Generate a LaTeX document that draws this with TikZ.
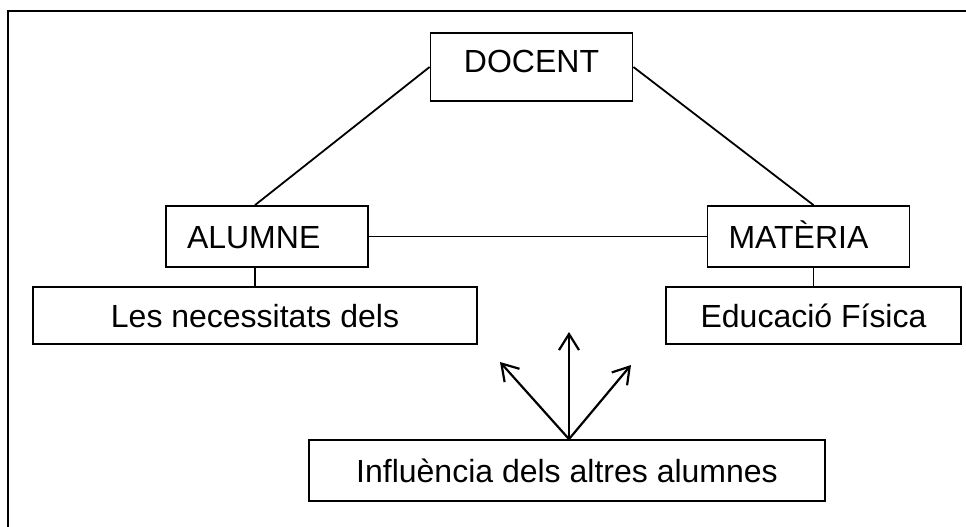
\documentclass[tikz,border=0pt]{standalone}
\usepackage{fontspec}
\setmainfont{Liberation Sans}
\usetikzlibrary{arrows.meta}

\begin{document}
\begin{tikzpicture}[x=1pt, y=-1pt,
		box/.style={draw, line width=1.8pt, inner sep=0pt, text height=23, text depth=0, font=\fontsize{32}{38}\selectfont},
		lefttext/.style={box, align=left, text width=160, inner xsep=21},
		link/.style={line width=1.8pt},
		pull/.style={line width=2.2pt, -{Straight Barb[length=16, width=20, line width=2.2pt]}}]
		\useasboundingbox (0,0) rectangle (966,527);
		\draw[line width=2.5pt] (8,527) -- (8,11) -- (966,11);
		\node[box, text depth=11, minimum width=202, minimum height=68] (docent) at (531.5,67) {DOCENT};
		\node[lefttext, minimum height=61] (alumne) at (267,236.5) {ALUMNE};
		\node[lefttext, minimum height=61] (materia) at (808.5,236.5) {MATÈRIA};
		\node[box, minimum width=444, minimum height=57] (necessitats) at (255,315.5) {Les necessitats dels};
		\node[box, minimum width=295, minimum height=57] (fisica) at (813.5,315.5) {Educació Física};
		\node[box, minimum width=516, minimum height=61] (influencia) at (567,470.5) {Influència dels altres alumnes};
		\coordinate (upleft) at (500,362);
		\coordinate (up) at (569,332);
		\coordinate (upright) at (631,365);
		\draw[link] (docent.west) -- (necessitats.north |- alumne.north);
		\draw[link] (docent.east) -- (fisica.north |- materia.north);
		\draw[link] (alumne) -- (materia);
		\draw[link] (necessitats.north |- alumne.south) -- (necessitats.north);
		\draw[link] (fisica.north |- materia.south) -- (fisica.north);
		\foreach \tip in {upleft, up, upright} {
			\draw[pull] (influencia.north -| up) -- (\tip);
		}
\end{tikzpicture}
\end{document}
